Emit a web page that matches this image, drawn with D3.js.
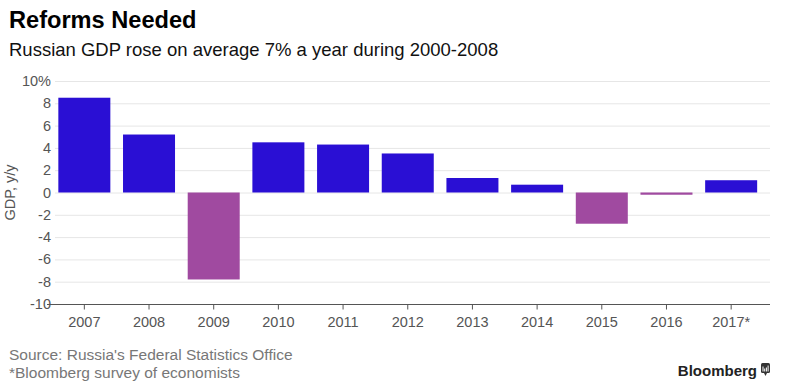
<!DOCTYPE html>
<html>
<head>
<meta charset="utf-8">
<script src="https://cdn.jsdelivr.net/npm/d3@7"></script>
<style>
  body { margin: 0; background: #fff; }
  svg { font-family: "Liberation Sans", Arial, sans-serif; }
</style>
</head>
<body>
<svg width="788" height="388"></svg>
<script>
const years = ['2007', '2008', '2009', '2010', '2011', '2012', '2013', '2014', '2015', '2016', '2017*'];
const gdp = [8.5, 5.2, -7.8, 4.5, 4.3, 3.5, 1.3, 0.7, -2.8, -0.2, 1.1];
const yTicks = [-10, -8, -6, -4, -2, 0, 2, 4, 6, 8, 10];

const data = years.map((y, i) => ({ year: y, value: gdp[i] }));

const svg = d3.select('svg');

// titles
svg.append('text').attr('x', 9).attr('y', 28)
  .attr('font-size', 23.6).attr('font-weight', 'bold').attr('fill', '#000')
  .text('Reforms Needed');
svg.append('text').attr('x', 9).attr('y', 56)
  .attr('font-size', 18.5).attr('fill', '#111')
  .text('Russian GDP rose on average 7% a year during 2000-2008');

const x = d3.scaleBand().domain(years).range([52, 763.5]).paddingInner(0.196).paddingOuter(0.098);
const y = d3.scaleLinear().domain([-10, 10]).range([304, 81]);

// gridlines
svg.append('g').selectAll('line').data(yTicks.filter(d => d > -10)).enter().append('line')
  .attr('x1', 55).attr('x2', 770)
  .attr('y1', d => y(d) + 0.5).attr('y2', d => y(d) + 0.5)
  .attr('stroke', '#e6e6e6').attr('stroke-width', 1);

// y tick labels
svg.append('g').selectAll('text').data(yTicks).enter().append('text')
  .attr('x', 51).attr('y', d => y(d) + 5)
  .attr('text-anchor', 'end').attr('font-size', 14.5).attr('fill', '#555')
  .text(d => d === 10 ? '10%' : d);

svg.append('text')
  .attr('transform', `translate(15,${y(0)}) rotate(-90)`)
  .attr('text-anchor', 'middle').attr('font-size', 14.5).attr('fill', '#555')
  .text('GDP, y/y');

// bars
svg.append('g').selectAll('rect').data(data).enter().append('rect')
  .attr('x', d => x(d.year))
  .attr('width', x.bandwidth())
  .attr('y', d => y(Math.max(0, d.value)))
  .attr('height', d => Math.max(1.5, Math.abs(y(d.value) - y(0))))
  .attr('fill', d => d.value >= 0 ? '#2a0fd4' : '#a04aa0');

// x axis
const xAxis = svg.append('g').attr('transform', `translate(0,${y(-10) + 0.5})`)
  .call(d3.axisBottom(x).tickSize(5).tickPadding(7));
xAxis.select('.domain').attr('d', 'M47,0H770').attr('stroke', '#555');
xAxis.selectAll('.tick line').attr('stroke', '#555');
xAxis.selectAll('.tick text').attr('font-size', 14.5).attr('fill', '#555')
  .attr('font-family', '"Liberation Sans", Arial, sans-serif');

// footer
svg.append('text').attr('x', 9).attr('y', 360).attr('font-size', 15.5).attr('fill', '#777')
  .text("Source: Russia's Federal Statistics Office");
svg.append('text').attr('x', 9).attr('y', 378).attr('font-size', 15.5).attr('fill', '#777')
  .text('*Bloomberg survey of economists');
svg.append('text').attr('x', 757).attr('y', 376).attr('text-anchor', 'end')
  .attr('font-size', 15).attr('font-weight', 'bold').attr('fill', '#222')
  .text('Bloomberg');
const logo = svg.append('g').attr('transform', 'translate(761,363)');
logo.append('rect').attr('width', 9).attr('height', 10).attr('rx', 1.5).attr('fill', '#333');
logo.append('path').attr('d', 'M3,10 L4.5,13 L6,10 Z').attr('fill', '#333');
[[2, 5], [3.7, 3], [5.4, 4], [7.1, 6]].forEach(([bx, h]) => {
  logo.append('rect').attr('x', bx - 0.5).attr('y', 8.5 - h).attr('width', 1).attr('height', h).attr('fill', '#fff');
});
</script>
</body>
</html>
